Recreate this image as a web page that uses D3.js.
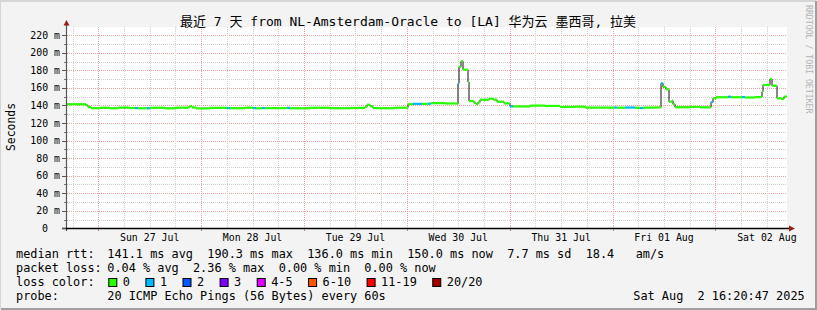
<!DOCTYPE html>
<html><head><meta charset="utf-8">
<script src="https://cdn.jsdelivr.net/npm/d3@7"></script>
<style>
body{margin:0;background:#f3f3f3}
svg{display:block}
text{font-family:"DejaVu Sans Mono",monospace;fill:#000;white-space:pre}
</style>
</head><body>
<svg id="c" width="817" height="310"></svg>
<script>
// ---------------- data ----------------
const titleText = "最近 7 天 from NL-Amsterdam-Oracle to [LA] 华为云 墨西哥, 拉美";
const startUTC = Date.UTC(2025, 6, 26, 16, 42, 0);   // 7-day window start
const spanDays = 7;
// step samples: hours from window start, median rtt (ms), lost pings (of 20)
const hours = [0.00,4.43,4.90,5.60,7.70,10.03,11.90,14.70,15.87,16.57,18.67,19.37,22.87,25.20,28.23,28.70,29.17,30.10,33.37,37.33,38.03,41.53,43.40,44.10,45.50,46.20,51.33,52.03,56.70,61.37,66.03,69.53,70.00,70.70,71.40,73.03,76.53,79.57,80.73,82.83,84.23,84.93,88.20,91.00,91.23,91.47,91.93,92.40,93.57,93.80,94.97,95.43,95.90,96.37,98.47,99.40,100.33,101.97,103.37,104.07,108.03,111.53,115.03,118.53,120.87,127.63,128.33,130.20,132.53,133.70,134.40,137.20,138.60,139.07,139.77,140.47,141.17,141.40,141.87,145.37,147.70,150.27,150.73,151.43,154.23,154.93,157.50,158.20,160.53,162.17,162.40,164.03,164.50,165.67,166.60,167.30];
const rtt = [141.3,140.2,138.0,136.9,137.3,136.8,137.5,137.0,137.0,136.7,136.8,137.3,136.7,137.4,138.0,139.2,137.6,136.6,137.2,137.0,136.8,137.4,137.0,136.7,137.0,136.9,137.2,136.7,137.3,136.8,137.1,138.3,140.8,139.0,137.0,136.8,137.4,141.3,141.8,141.8,142.0,142.6,142.2,142.0,165.0,184.0,190.3,180.7,166.7,145.0,143.0,141.3,143.5,146.5,147.7,146.6,144.2,142.3,139.0,138.8,139.8,139.4,138.3,138.6,137.5,137.6,137.4,137.6,137.3,137.0,137.5,137.7,165.2,161.0,158.4,144.3,145.4,141.3,137.9,138.3,137.8,143.6,148.1,149.3,149.9,149.3,149.5,149.0,149.5,155.7,163.3,170.1,162.5,148.1,147.4,150.0];
const loss = [0,0,0,0,0,0,0,0,1,0,1,0,0,0,0,0,0,0,0,1,0,0,1,0,1,0,1,0,0,0,0,0,0,0,0,0,0,0,1,0,1,0,0,0,1,0,0,0,0,0,0,0,0,0,0,0,0,0,1,0,0,0,0,0,0,1,0,1,0,1,0,0,1,0,0,0,0,0,0,0,0,1,0,0,1,0,1,0,0,0,0,0,0,0,0,0];
const yTicks = [0,20,40,60,80,100,120,140,160,180,200,220];
const yMinor = [10,30,50,70,90,110,130,150,170,190,210];
const lossLabels = ["0","1","2","3","4-5","6-10","11-19","20/20"];
const lossColors = ["#26ff00","#00b8ff","#0059ff","#7e00ff","#dd00ff","#ff5500","#ff0000","#a10000"];
const legendHeads = ["median rtt:","packet loss:","loss color:","probe:"];
const rttStats = "141.1 ms avg  190.3 ms max  136.0 ms min  150.0 ms now  7.7 ms sd  18.4   am/s";
const lossStats = "0.04 % avg  2.36 % max  0.00 % min  0.00 % now";
const probeText = "20 ICMP Echo Pings (56 Bytes) every 60s";
const dateText = "Sat Aug  2 16:20:47 2025";
const sideText = "RRDTOOL / TOBI OETIKER";
const yLabel = "Seconds";

// ---------------- drawing ----------------
const W = 817, H = 310;
const svg = d3.select("#c");
const L = 67, R = 787, B = 228.3, T = 27.3;
const endUTC = startUTC + spanDays * 864e5;
const x = d3.scaleUtc().domain([new Date(startUTC), new Date(endUTC)]).range([L, R]);
const y = d3.scaleLinear().domain([0, 229]).range([B, T]);
const px = v => Math.round(v) + 0.5;

// frame
svg.append("rect").attr("width", W).attr("height", H).attr("fill", "#f3f3f3");
svg.append("path").attr("d", `M0,${H-1} V1 H${W-1}`).attr("stroke", "#d6d6d6").attr("stroke-width", 2).attr("fill", "none");
svg.append("path").attr("d", `M1,${H-1} H${W-1} V1`).attr("stroke", "#9e9e9e").attr("stroke-width", 2).attr("fill", "none");

// plot background
svg.append("rect").attr("x", L).attr("y", 27).attr("width", R - L).attr("height", 228 - 27).attr("fill", "#fff");

const g = svg.append("g");
// horizontal grid
yMinor.forEach(v => g.append("line").attr("x1", L).attr("x2", R).attr("y1", px(y(v))).attr("y2", px(y(v)))
  .attr("stroke", "#cfcfcf").attr("stroke-dasharray", "1,1"));
yTicks.filter(v => v > 0).forEach(v => g.append("line").attr("x1", L).attr("x2", R).attr("y1", px(y(v))).attr("y2", px(y(v)))
  .attr("stroke", "#f0a0a0").attr("stroke-dasharray", "1,1"));
// vertical grid
const six = d3.utcHour.every(6).range(new Date(startUTC), new Date(endUTC));
six.forEach(t => {
  const major = t.getUTCHours() === 0;
  g.append("line").attr("x1", px(x(t))).attr("x2", px(x(t))).attr("y1", 27).attr("y2", 228)
    .attr("stroke", major ? "#f0a0a0" : "#cfcfcf").attr("stroke-dasharray", "1,1");
  if (major) g.append("line").attr("x1", px(x(t))).attr("x2", px(x(t))).attr("y1", 228).attr("y2", 231).attr("stroke", "#999");
});

// data: black step line + coloured level segments
const pts = hours.map((h, i) => ({t: new Date(startUTC + h * 36e5), v: rtt[i], l: loss[i]}));
const stepPts = pts.concat([{t: new Date(endUTC), v: rtt[rtt.length - 1], l: 0}]);
svg.append("path").datum(stepPts)
  .attr("d", d3.line().x(d => x(d.t)).y(d => y(d.v)).curve(d3.curveStepAfter))
  .attr("fill", "none").attr("stroke", "#111").attr("stroke-width", 1);
pts.forEach((d, i) => {
  const t2 = i + 1 < pts.length ? pts[i + 1].t : new Date(endUTC);
  svg.append("line").attr("x1", x(d.t)).attr("x2", x(t2)).attr("y1", y(d.v)).attr("y2", y(d.v))
    .attr("stroke", lossColors[d.l]).attr("stroke-width", 2.2);
});

// axes
svg.append("line").attr("x1", 66.5).attr("x2", 66.5).attr("y1", 24).attr("y2", 231).attr("stroke", "#555").attr("stroke-width", 1.2);
svg.append("line").attr("x1", 62).attr("x2", 790).attr("y1", 228.5).attr("y2", 228.5).attr("stroke", "#000").attr("stroke-width", 1.5);
svg.append("path").attr("d", "M63.5,25.5 L69.5,25.5 L66.5,20 Z").attr("fill", "#9b1c1c");
svg.append("path").attr("d", "M789,225.5 L789,231.5 L795,228.5 Z").attr("fill", "#9b1c1c");
yTicks.forEach(v => svg.append("line").attr("x1", 62).attr("x2", 66).attr("y1", px(y(v))).attr("y2", px(y(v))).attr("stroke", "#555"));
yMinor.forEach(v => svg.append("line").attr("x1", 64).attr("x2", 66).attr("y1", px(y(v))).attr("y2", px(y(v))).attr("stroke", "#777"));

// y labels
yTicks.forEach(v => svg.append("text").attr("x", v === 0 ? 48 : 60).attr("y", y(v) + 3.6)
  .attr("text-anchor", "end").attr("font-size", "9.9px").text(v === 0 ? "0" : v + " m"));
// x labels at noon
d3.utcDay.range(new Date(startUTC), new Date(endUTC)).forEach(d => {
  const noon = new Date(+d + 12 * 36e5);
  if (noon < endUTC) svg.append("text").attr("x", x(noon)).attr("y", 240.7)
    .attr("text-anchor", "middle").attr("font-size", "9.9px").text(d3.utcFormat("%a %d %b")(noon));
});

// title
svg.append("text").attr("x", 180).attr("y", 26.3).attr("font-size", "13px")
  .style("font-family", '"DejaVu Sans Mono","Noto Sans CJK SC",monospace').text(titleText);
// y axis title
svg.append("text").attr("transform", "translate(15,127) rotate(-90)").attr("text-anchor", "middle")
  .attr("font-size", "11.4px").text(yLabel);
// side credit
svg.append("text").attr("transform", "translate(805.5,5) rotate(90)").attr("font-size", "8.2px")
  .style("fill", "#b4b4b4").text(sideText);

// legend
const fs = "11.86px", cw = 7.14;
const base = [258.4, 272.3, 286.2, 300.1];
legendHeads.forEach((s, i) => svg.append("text").attr("x", 16).attr("y", base[i]).attr("font-size", fs).text(s));
svg.append("text").attr("x", 107.3).attr("y", base[0]).attr("font-size", fs).text(rttStats);
svg.append("text").attr("x", 107.3).attr("y", base[1]).attr("font-size", fs).text(lossStats);
svg.append("text").attr("x", 107.3).attr("y", base[3]).attr("font-size", fs).text(probeText);
svg.append("text").attr("x", 633.3).attr("y", base[3]).attr("font-size", fs).text(dateText);
let lx = 108.3;
lossLabels.forEach((s, i) => {
  svg.append("rect").attr("x", lx + 0.5).attr("y", 278.5).attr("width", 8).attr("height", 8)
    .attr("fill", lossColors[i]).attr("stroke", "#000").attr("stroke-width", 1);
  svg.append("text").attr("x", lx + 14.5).attr("y", base[2]).attr("font-size", fs).text(s);
  lx += (s.length + 4) * cw + 1.4;
});
</script>
</body></html>
